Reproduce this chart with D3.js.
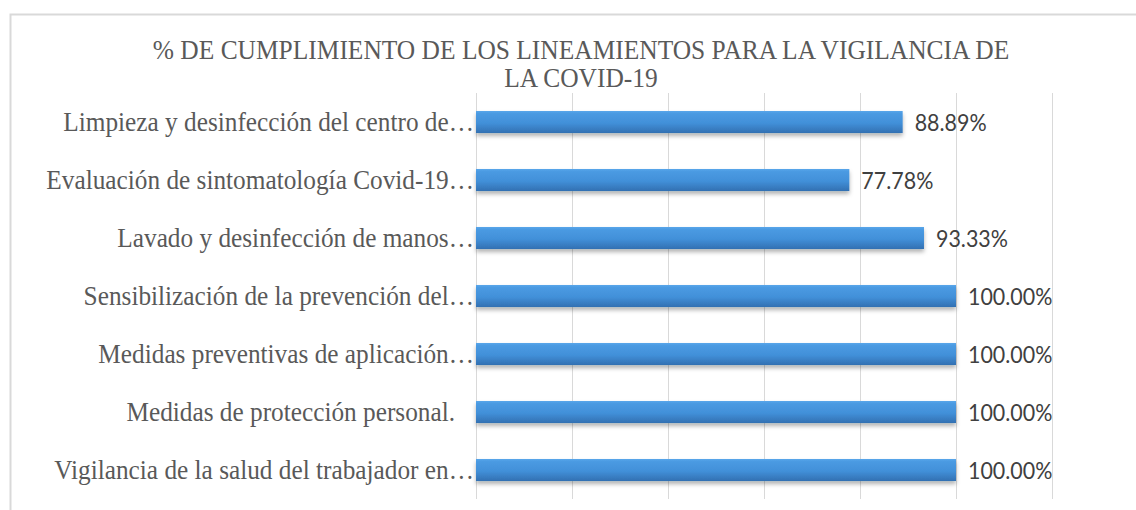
<!DOCTYPE html>
<html><head><meta charset="utf-8">
<script src="https://cdn.jsdelivr.net/npm/d3@7"></script>
<style>html,body{margin:0;padding:0;background:#fff;overflow:hidden}</style>
</head><body>
<svg id="chart" width="1136" height="510"></svg>
<script>
const titleLines = ["% DE CUMPLIMIENTO DE LOS LINEAMIENTOS PARA LA VIGILANCIA DE", "LA COVID-19"];
const categories = [
  "Limpieza y desinfección del centro de…",
  "Evaluación de sintomatología Covid-19…",
  "Lavado y desinfección de manos…",
  "Sensibilización de la prevención del…",
  "Medidas preventivas de aplicación…",
  "Medidas de protección personal.   ",
  "Vigilancia de la salud del trabajador en…"
];
const values = [88.89, 77.78, 93.33, 100.00, 100.00, 100.00, 100.00];
const gridTicks = [0, 20, 40, 60, 80, 100, 120];

const svg = d3.select("#chart");

// chart border
svg.append("rect").attr("x", 10.5).attr("y", 14.5).attr("width", 1200).attr("height", 600)
  .attr("fill", "#fff").attr("stroke", "#d9d9d9").attr("stroke-width", 2);

const defs = svg.append("defs");
const grad = defs.append("linearGradient").attr("id", "barGrad").attr("x1", 0).attr("y1", 0).attr("x2", 0).attr("y2", 1);
grad.append("stop").attr("offset", "0%").attr("stop-color", "#5aa6ea");
grad.append("stop").attr("offset", "12%").attr("stop-color", "#4a9ae2");
grad.append("stop").attr("offset", "55%").attr("stop-color", "#4290d9");
grad.append("stop").attr("offset", "100%").attr("stop-color", "#3270b2");
const f = defs.append("filter").attr("id", "shadow").attr("x", "-5%").attr("y", "-30%").attr("width", "110%").attr("height", "180%");
f.append("feDropShadow").attr("dx", 0).attr("dy", 3).attr("stdDeviation", 2)
  .attr("flood-color", "#000").attr("flood-opacity", 0.3);

const x = d3.scaleLinear().domain([0, 120]).range([476, 1052]);
const y = d3.scaleBand().domain(categories).range([93, 499]).paddingInner(0.62).paddingOuter(0.31);

// gridlines
svg.append("g").selectAll("line").data(gridTicks).join("line")
  .attr("x1", d => Math.round(x(d)) + 0.5).attr("x2", d => Math.round(x(d)) + 0.5)
  .attr("y1", 93).attr("y2", 499)
  .attr("stroke", "#d9d9d9").attr("stroke-width", 1);

// bars
svg.append("g").selectAll("rect").data(values).join("rect")
  .attr("x", x(0))
  .attr("y", (d, i) => y(categories[i]))
  .attr("width", d => x(d) - x(0))
  .attr("height", y.bandwidth())
  .attr("fill", "url(#barGrad)")
  .attr("filter", "url(#shadow)");

// category labels
const labG = svg.append("g").selectAll("g").data(categories).join("g");
const labT = labG.append("text")
  .attr("text-anchor", "end")
  .attr("font-family", "'Liberation Serif', 'Times New Roman', serif")
  .attr("font-size", 26.5)
  .attr("fill", "#595959")
  .style("white-space", "pre")
  .text(d => d);
const refW = labT.filter((d, i) => i === categories.length - 1).node().getComputedTextLength();
const sLab = 420 / refW;
labG.attr("transform", d => `translate(474,${y(d) + y.bandwidth() / 2 + 8.5}) scale(${sLab},1)`);

// value labels
const valG = svg.append("g").selectAll("g").data(values).join("g");
const valT = valG.append("text")
  .attr("font-family", "Lato, 'Open Sans', sans-serif")
  .attr("font-size", 24)
  .attr("fill", "#404040")
  .text(d => d.toFixed(2) + "%");
const vW = valT.node().getComputedTextLength();
const sVal = 72 / vW;
valG.attr("transform", (d, i) => `translate(${x(d) + 12},${y(categories[i]) + y.bandwidth() / 2 + 8.5}) scale(${sVal},1)`);

// title
const tG = svg.append("g").selectAll("g").data(titleLines).join("g");
const tT = tG.append("text")
  .attr("text-anchor", "middle")
  .attr("font-family", "'Liberation Serif', 'Times New Roman', serif")
  .attr("font-size", 26.5)
  .attr("fill", "#595959")
  .text(d => d);
const tW = tT.node().getComputedTextLength();
const sTit = 857 / tW;
tG.attr("transform", (d, i) => `translate(581,${59 + i * 28}) scale(${sTit},1)`);
</script>
</body></html>
